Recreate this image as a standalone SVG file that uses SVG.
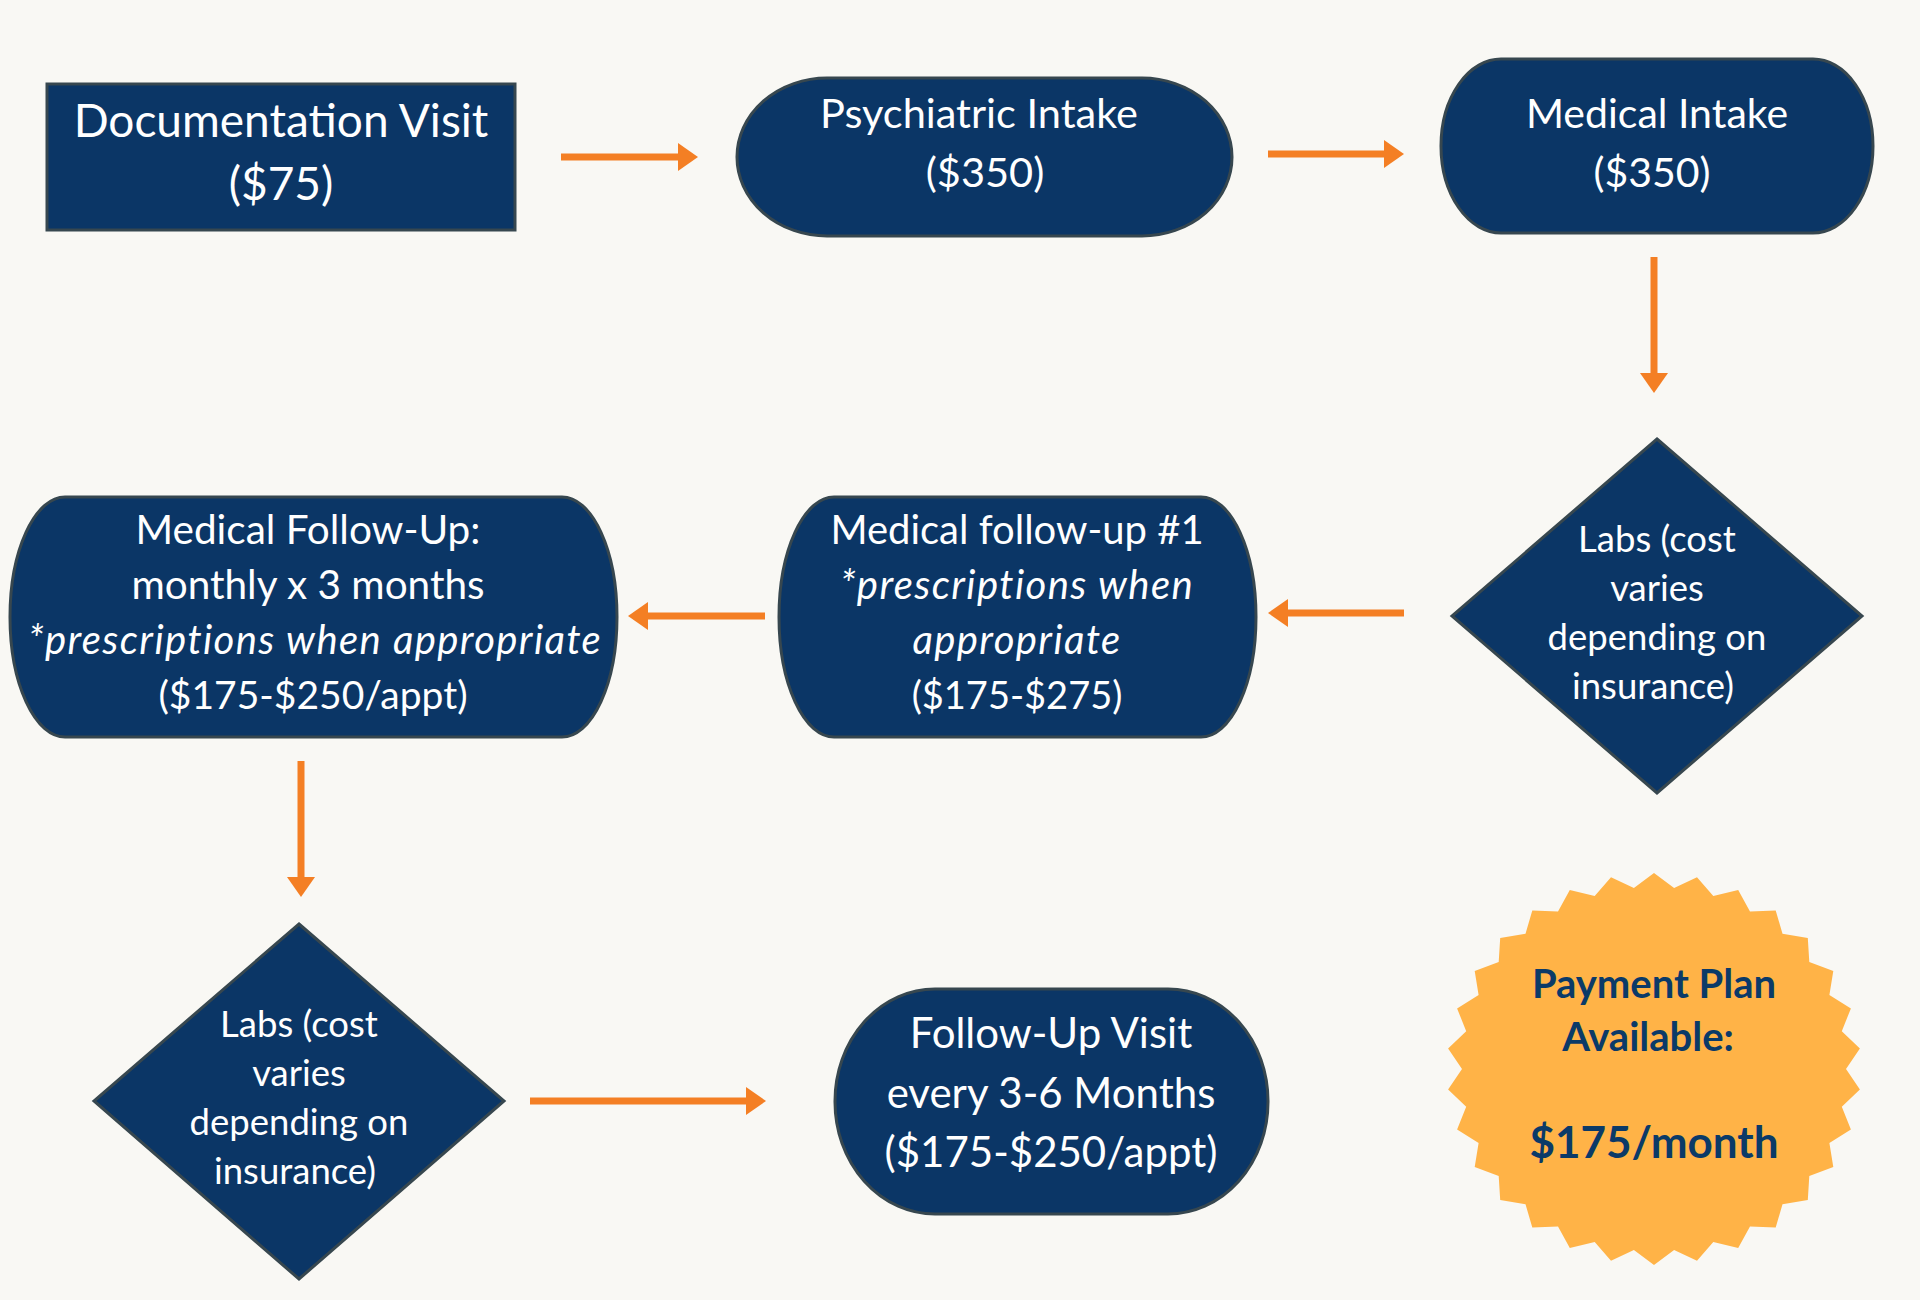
<svg xmlns="http://www.w3.org/2000/svg" width="1920" height="1300" viewBox="0 0 1920 1300">
<style>
.node{fill:#0B3666;stroke:#37474F;stroke-width:3}
.t{font-family:Lato,"Noto Sans","Liberation Sans",sans-serif;fill:#FFFFFF;text-anchor:middle}
.it{font-style:italic;letter-spacing:1.4px}
.conn{stroke:#F47F24;stroke-width:7;fill:none;marker-end:url(#ah)}
.star{fill:#FFB347}
.st{font-family:Lato,"Noto Sans","Liberation Sans",sans-serif;fill:#0B3A68;font-weight:bold;text-anchor:middle}
</style>
<defs>
<marker id="ah" markerUnits="userSpaceOnUse" markerWidth="22" markerHeight="30" refX="0" refY="14" orient="auto" overflow="visible">
<path d="M0,0 L20,14 L0,28 Z" fill="#F47F24"/>
</marker>
</defs>
<rect width="1920" height="1300" fill="#F9F8F4"/>
<g id="connectors">
<line class="conn" x1="561" y1="157" x2="678" y2="157"/>
<line class="conn" x1="1268" y1="154" x2="1384" y2="154"/>
<line class="conn" x1="1654" y1="257" x2="1654" y2="373"/>
<line class="conn" x1="1404" y1="613" x2="1288" y2="613"/>
<line class="conn" x1="765" y1="616" x2="648" y2="616"/>
<line class="conn" x1="301" y1="761" x2="301" y2="877"/>
<line class="conn" x1="530" y1="1101" x2="746" y2="1101"/>
</g>
<g id="documentation-visit">
<rect class="node" x="47" y="84" width="468" height="146"/>
<text class="t" font-size="46" x="281" y="137">Documentation Visit</text>
<text class="t" font-size="46" x="281" y="200">($75)</text>
</g>
<g id="psychiatric-intake">
<rect class="node" x="737" y="78" width="495" height="158" rx="90" ry="79"/>
<text class="t" font-size="41.5" x="979" y="128">Psychiatric Intake</text>
<text class="t" font-size="41.5" x="985" y="187">($350)</text>
</g>
<g id="medical-intake">
<rect class="node" x="1441" y="59" width="432" height="174" rx="60" ry="87"/>
<text class="t" font-size="41" x="1657" y="128">Medical Intake</text>
<text class="t" font-size="41" x="1652" y="187">($350)</text>
</g>
<g id="labs-1">
<polygon class="node" points="1657,439 1862,616 1657,793 1452,616"/>
<text class="t" font-size="36.5" x="1657" y="552">Labs (cost</text>
<text class="t" font-size="36.5" x="1657" y="601">varies</text>
<text class="t" font-size="36.5" x="1657" y="650">depending on</text>
<text class="t" font-size="36.5" x="1653" y="699">insurance)</text>
</g>
<g id="medical-follow-up-1">
<rect class="node" x="779" y="497" width="477" height="240" rx="55" ry="120"/>
<text class="t" font-size="40" x="1017" y="544">Medical follow-up #1</text>
<text class="t it" font-size="40" x="1017" y="599">*prescriptions when</text>
<text class="t it" font-size="40" x="1017" y="654">appropriate</text>
<text class="t" font-size="38" x="1017" y="709">($175-$275)</text>
</g>
<g id="medical-follow-up-monthly">
<rect class="node" x="10" y="497" width="607" height="240" rx="55" ry="120"/>
<text class="t" font-size="40.5" x="308" y="544">Medical Follow-Up:</text>
<text class="t" font-size="40.5" x="308" y="599">monthly x 3 months</text>
<text class="t it" font-size="40" x="315" y="654">*prescriptions when appropriate</text>
<text class="t" font-size="39" x="313" y="709">($175-$250/appt)</text>
</g>
<g id="labs-2">
<polygon class="node" points="299,924 504,1101 299,1279 94,1101"/>
<text class="t" font-size="36.5" x="299" y="1037">Labs (cost</text>
<text class="t" font-size="36.5" x="299" y="1086">varies</text>
<text class="t" font-size="36.5" x="299" y="1135">depending on</text>
<text class="t" font-size="36.5" x="295" y="1184">insurance)</text>
</g>
<g id="follow-up-visit">
<rect class="node" x="835" y="989" width="433" height="225" rx="100" ry="112"/>
<text class="t" font-size="42" x="1051" y="1048">Follow-Up Visit</text>
<text class="t" font-size="42" x="1051" y="1108">every 3-6 Months</text>
<text class="t" font-size="42" x="1051" y="1167">($175-$250/appt)</text>
</g>
<g id="payment-plan">
<polygon class="star" points="1654,873 1674.1,888 1697,877.3 1713.3,895.9 1738.2,890 1750,911.4 1775.7,910.4 1782.5,933.8 1807.8,937.9 1809.3,962 1833.3,971 1829.4,995 1850.9,1008.4 1841.8,1031.2 1859.9,1048.5 1846,1069 1859.9,1089.5 1841.8,1106.8 1850.9,1129.6 1829.4,1143 1833.3,1167 1809.3,1176 1807.8,1200.1 1782.5,1204.2 1775.7,1227.6 1750,1226.6 1738.2,1248 1713.3,1242.1 1697,1260.7 1674.1,1250 1654,1265 1633.9,1250 1611,1260.7 1594.7,1242.1 1569.8,1248 1558,1226.6 1532.3,1227.6 1525.5,1204.2 1500.2,1200.1 1498.7,1176 1474.7,1167 1478.6,1143 1457.1,1129.6 1466.2,1106.8 1448.1,1089.5 1462,1069 1448.1,1048.5 1466.2,1031.2 1457.1,1008.4 1478.6,995 1474.7,971 1498.7,962 1500.2,937.9 1525.5,933.8 1532.3,910.4 1558,911.4 1569.8,890 1594.7,895.9 1611,877.3 1633.9,888"/>
<text class="st" font-size="40" x="1654" y="998">Payment Plan</text>
<text class="st" font-size="40" x="1648" y="1051">Available:</text>
<text class="st" font-size="44" x="1654" y="1158">$175/month</text>
</g>
</svg>
